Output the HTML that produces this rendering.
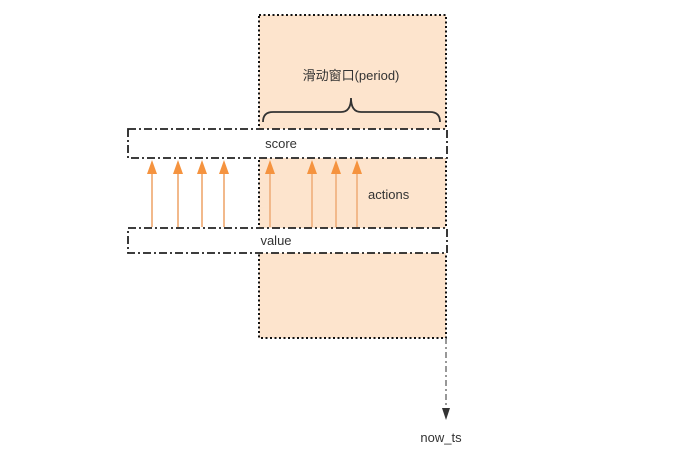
<!DOCTYPE html>
<html><head><meta charset="utf-8"><style>
html,body{margin:0;padding:0;background:#fff;}
svg{display:block;}
text{font-family:"Liberation Sans","Noto Sans CJK SC",sans-serif;fill:#333;font-size:13px;}
</style></head><body>
<svg width="700" height="452" viewBox="0 0 700 452">
<rect x="259" y="15" width="187" height="323" fill="#fde4cd" stroke="#111" stroke-width="2" stroke-dasharray="2,2.5"/>
<text x="351" y="80" text-anchor="middle">滑动窗口(period)</text>
<path d="M263,122 Q263,112 273,112 L341,112 Q351,112 351,98 Q351,112 361,112 L430,112 Q440,112 440,122" fill="none" stroke="#333" stroke-width="1.8"/>
<rect x="128" y="129" width="319" height="29" fill="#fff" stroke="#222" stroke-width="1.8" stroke-dasharray="8,3,2,3"/>
<text x="281" y="148" text-anchor="middle">score</text>
<rect x="128" y="228" width="319" height="25" fill="#fff" stroke="#222" stroke-width="1.8" stroke-dasharray="8,3,2,3"/>
<text x="276" y="245" text-anchor="middle">value</text>
<text x="368" y="199">actions</text>
<g id="arrows"></g>
<line x1="446" y1="338" x2="446" y2="412" stroke="#777" stroke-width="1.5" stroke-dasharray="6,3,2,3"/>
<path d="M442,408 L450,408 L446,420 Z" fill="#333"/>
<text x="441" y="442" text-anchor="middle">now_ts</text>
</svg>
<script>
const actionX = [152,178,202,224,270,312,336,357];
const g = document.getElementById('arrows');
const NS = 'http://www.w3.org/2000/svg';
actionX.forEach(x => {
  const l = document.createElementNS(NS,'line');
  
  
  l.setAttribute('x1', x); l.setAttribute('y1', 227);
  l.setAttribute('x2', x); l.setAttribute('y2', 170);
  l.setAttribute('stroke', '#f2b98b'); l.setAttribute('stroke-width', '2');
  g.appendChild(l);
  const h = document.createElementNS(NS,'path');
  
  
  h.setAttribute('d', `M${x-5},174 L${x+5},174 L${x},160 Z`);
  h.setAttribute('fill', '#f5933f');
  g.appendChild(h);
});
</script>
</body></html>
